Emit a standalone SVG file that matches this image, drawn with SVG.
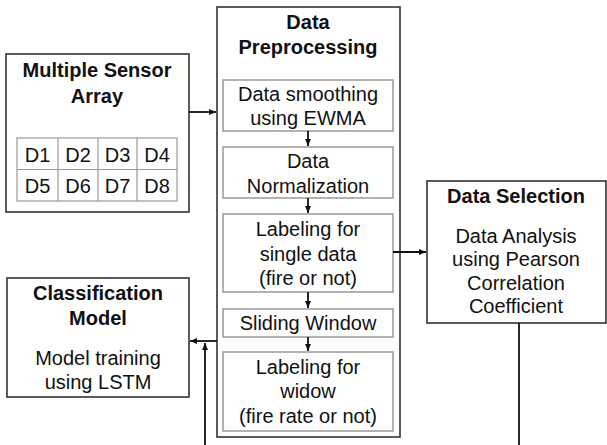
<svg xmlns="http://www.w3.org/2000/svg" width="607" height="445" viewBox="0 0 607 445">
<defs>
<marker id="ah" markerWidth="8" markerHeight="8" refX="7" refY="4" orient="auto" markerUnits="userSpaceOnUse">
<path d="M0,1 L7,4 L0,7 Z" fill="#111"/>
</marker>
<style>
.outer{fill:#fff;stroke:#333;stroke-width:1.6}
.inner{fill:#fff;stroke:#999;stroke-width:1.5}
.grid{fill:none;stroke:#999;stroke-width:1.2}
.t{font-family:"Liberation Sans",Arial,sans-serif;font-size:20px;fill:#111;text-anchor:middle}
.b{font-weight:bold}
.c{fill:none;stroke:#111;stroke-width:1.8}
</style>
</defs>
<rect width="607" height="445" fill="#fff"/>
<g id="sensor">
<rect class="outer" x="6" y="54" width="183" height="158"/>
<text class="t b" x="97" y="77">Multiple Sensor</text>
<text class="t b" x="97" y="103">Array</text>
<rect class="grid" x="17" y="138" width="160" height="63"/>
<path class="grid" d="M17,169.5H177M58,138V201M98,138V201M137,138V201"/>
<text class="t" x="37.5" y="162">D1</text>
<text class="t" x="78" y="162">D2</text>
<text class="t" x="117.5" y="162">D3</text>
<text class="t" x="157" y="162">D4</text>
<text class="t" x="37.5" y="193">D5</text>
<text class="t" x="78" y="193">D6</text>
<text class="t" x="117.5" y="193">D7</text>
<text class="t" x="157" y="193">D8</text>
</g>
<g id="preprocessing">
<rect class="outer" x="217" y="7" width="183" height="430"/>
<text class="t b" x="308" y="29">Data</text>
<text class="t b" x="308" y="54">Preprocessing</text>
</g>
<g id="smoothing">
<rect class="inner" x="223" y="80" width="170" height="51"/>
<text class="t" x="308" y="101">Data smoothing</text>
<text class="t" x="308" y="125">using EWMA</text>
</g>
<g id="normalization">
<rect class="inner" x="223" y="147" width="170" height="51"/>
<text class="t" x="308" y="168">Data</text>
<text class="t" x="308" y="193">Normalization</text>
</g>
<g id="labeling-single">
<rect class="inner" x="223" y="214" width="170" height="78"/>
<text class="t" x="308" y="236">Labeling for</text>
<text class="t" x="308" y="261">single data</text>
<text class="t" x="308" y="285">(fire or not)</text>
</g>
<g id="sliding">
<rect class="inner" x="223" y="309" width="170" height="28"/>
<text class="t" x="308" y="330">Sliding Window</text>
</g>
<g id="labeling-window">
<rect class="inner" x="223" y="352" width="170" height="79"/>
<text class="t" x="308" y="374">Labeling for</text>
<text class="t" x="308" y="398">widow</text>
<text class="t" x="308" y="423">(fire rate or not)</text>
</g>
<g id="selection">
<rect class="outer" x="427" y="181" width="179" height="142"/>
<text class="t b" x="516" y="203">Data Selection</text>
<text class="t" x="516" y="243">Data Analysis</text>
<text class="t" x="516" y="266">using Pearson</text>
<text class="t" x="516" y="290">Correlation</text>
<text class="t" x="516" y="313">Coefficient</text>
</g>
<g id="classification">
<rect class="outer" x="7" y="278" width="182" height="119"/>
<text class="t b" x="98" y="300">Classification</text>
<text class="t b" x="98" y="325">Model</text>
<text class="t" x="98" y="365">Model training</text>
<text class="t" x="98" y="389">using LSTM</text>
</g>
<g id="connectors">
<path class="c" d="M189,112H216" marker-end="url(#ah)"/>
<path class="c" d="M308,131V146" marker-end="url(#ah)"/>
<path class="c" d="M308,198V213" marker-end="url(#ah)"/>
<path class="c" d="M308,292V308" marker-end="url(#ah)"/>
<path class="c" d="M308,337V351" marker-end="url(#ah)"/>
<path class="c" d="M393,252H426" marker-end="url(#ah)"/>
<path class="c" d="M217,341H190" marker-end="url(#ah)"/>
<path class="c" d="M519,323V447H205V343" marker-end="url(#ah)"/>
</g>
</svg>
